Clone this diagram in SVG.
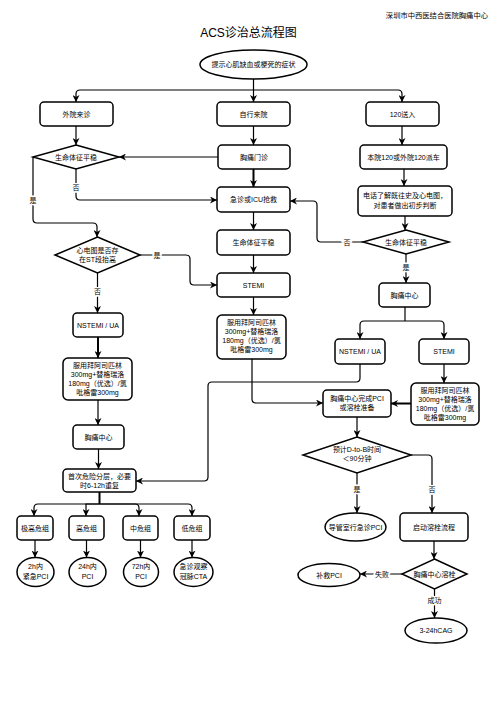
<svg xmlns="http://www.w3.org/2000/svg" width="503" height="713" viewBox="0 0 503 713">
<style>
.bx{fill:#fff;stroke:#000;stroke-width:1.5}
.c{fill:none;stroke:#000;stroke-width:1.2}
.k{stroke-width:2}
text{font-family:"Liberation Sans","Noto Sans CJK SC",sans-serif;font-size:7px;text-anchor:middle;fill:#000}
.lb{paint-order:stroke;stroke:#fff;stroke-width:3px}
</style>
<defs>
<marker id="a" viewBox="0 0 10 10" refX="10" refY="5" markerWidth="7" markerHeight="7" markerUnits="userSpaceOnUse" orient="auto"><path d="M0,0 L10,5 L0,10 L3,5 z" fill="#000"/></marker>
</defs>
<rect width="503" height="713" fill="#fff"/>
<text x="488" y="17.5" style="text-anchor:end;font-size:7.3px">深圳市中西医结合医院胸痛中心</text>
<text x="248.5" y="36.5" style="font-size:12px">ACS诊治总流程图</text>

<g id="connectors">
<path class="c" d="M253.5,79 V102" marker-end="url(#a)"/>
<path class="c" d="M253.5,90 H80 Q76,90 76,94 V102" marker-end="url(#a)"/>
<path class="c" d="M253.5,90 H398 Q402,90 402,94 V102" marker-end="url(#a)"/>
<path class="c" d="M76,126 V145" marker-end="url(#a)"/>
<path class="c" d="M218,157 H119" marker-end="url(#a)"/>
<path class="c" d="M253.5,126 V145" marker-end="url(#a)"/>
<path class="c k" d="M253.5,169 V187" marker-end="url(#a)"/>
<path class="c" d="M76,169 V196 Q76,200 80,200 H217" marker-end="url(#a)"/>
<path class="c" d="M33,157 V219 Q33,223 37,223 H93 Q97,223 97,227 V237" marker-end="url(#a)"/>
<path class="c" d="M253.5,212 V230" marker-end="url(#a)"/>
<path class="c" d="M253.5,255 V273" marker-end="url(#a)"/>
<path class="c" d="M140,255 H186 Q190,255 190,259 V281 Q190,285 194,285 H217" marker-end="url(#a)"/>
<path class="c" d="M97.5,273 V313" marker-end="url(#a)"/>
<path class="c" d="M253.5,297 V315" marker-end="url(#a)"/>
<path class="c" d="M402,126 V145" marker-end="url(#a)"/>
<path class="c" d="M404,169 V186" marker-end="url(#a)"/>
<path class="c" d="M405,216 V230" marker-end="url(#a)"/>
<path class="c" d="M363,242 H321 Q317,242 317,238 V205 Q317,201 313,201 H290" marker-end="url(#a)"/>
<path class="c" d="M406,254 V283" marker-end="url(#a)"/>
<path class="c" d="M405,307 V321" />
<path class="c" d="M405,321 H364 Q360,321 360,325 V339" marker-end="url(#a)"/>
<path class="c" d="M405,321 H440 Q444,321 444,325 V339" marker-end="url(#a)"/>
<path class="c k" d="M98,337 V358" marker-end="url(#a)"/>
<path class="c" d="M98,400 V425" marker-end="url(#a)"/>
<path class="c" d="M98.5,449 V469" marker-end="url(#a)"/>
<path class="c" d="M444,364 V383" marker-end="url(#a)"/>
<path class="c k" d="M411,403.5 H391" marker-end="url(#a)"/>
<path class="c" d="M252,359 V399 Q252,403 256,403 H323" marker-end="url(#a)"/>
<path class="c" d="M360,364 V378 Q360,382 356,382 H212 Q208,382 208,386 V477 Q208,481 204,481 H136" marker-end="url(#a)"/>
<path class="c" d="M357,417 V437" marker-end="url(#a)"/>
<path class="c" d="M357,473 V513" marker-end="url(#a)"/>
<path class="c" d="M411,455 H428 Q432,455 432,459 V513" marker-end="url(#a)"/>
<path class="c" d="M434,541 V559" marker-end="url(#a)"/>
<path class="c" d="M402,574 H360" marker-end="url(#a)"/>
<path class="c" d="M434.5,589 V618" marker-end="url(#a)"/>
<path class="c k" d="M99.5,492 V504"/>
<path class="c" d="M99.5,504 H38 Q34,504 34,508 V516" marker-end="url(#a)"/>
<path class="c" d="M99.5,504 H86 V516" marker-end="url(#a)"/>
<path class="c" d="M99.5,504 H135 Q139,504 139,508 V516" marker-end="url(#a)"/>
<path class="c" d="M99.5,504 H188 Q192,504 192,508 V516" marker-end="url(#a)"/>
<path class="c" d="M35,540 V557.5" marker-end="url(#a)"/>
<path class="c" d="M86.5,540 V557.5" marker-end="url(#a)"/>
<path class="c" d="M140.5,540 V557.5" marker-end="url(#a)"/>
<path class="c" d="M192,540 V557.5" marker-end="url(#a)"/>
<text class="lb" x="76" y="189.5">否</text>
<text class="lb" x="33" y="202.5">是</text>
<text class="lb" x="157" y="257.5">是</text>
<text class="lb" x="97.5" y="293.5">否</text>
<text class="lb" x="347" y="244.5">否</text>
<text class="lb" x="406" y="269.5">是</text>
<text class="lb" x="357" y="491.5">是</text>
<text class="lb" x="432" y="491.5">否</text>
<text class="lb" x="382" y="576.5">失败</text>
<text class="lb" x="434.5" y="602.5">成功</text>
</g>

<g id="start"><ellipse class="bx" cx="253.5" cy="64.5" rx="53.5" ry="14.5"/><text x="253.5" y="67">提示心肌缺血或梗死的症状</text></g>
<g id="waiyuan"><rect class="bx" x="40" y="102" width="73" height="24" rx="4"/><text x="76.5" y="116.5">外院来诊</text></g>
<g id="ziyuan"><rect class="bx" x="217" y="102" width="73" height="24" rx="4"/><text x="253.5" y="116.5">自行来院</text></g>
<g id="song120"><rect class="bx" x="366" y="102" width="73" height="24" rx="4"/><text x="402.5" y="116.5">120送入</text></g>
<g id="d1"><polygon class="bx" points="76,145 119,157 76,169 33,157"/><text x="76" y="159.5">生命体征平稳</text></g>
<g id="xtmz"><rect class="bx" x="218" y="145" width="72" height="24" rx="4"/><text x="254" y="159.5">胸痛门诊</text></g>
<g id="paiche"><rect class="bx" x="360" y="145" width="87" height="24" rx="4"/><text x="403.5" y="159.5">本院120或外院120派车</text></g>
<g id="icu"><rect class="bx" x="217" y="187" width="73" height="25" rx="4"/><text x="253.5" y="202">急诊或ICU抢救</text></g>
<g id="dianhua"><rect class="bx" x="358" y="186" width="94" height="30" rx="4"/><text x="405" y="198">电话了解既往史及心电图，</text><text x="405" y="208">对患者做出初步判断</text></g>
<g id="smtz"><rect class="bx" x="217" y="230" width="73" height="25" rx="4"/><text x="253.5" y="245">生命体征平稳</text></g>
<g id="d2"><polygon class="bx" points="406,230 449,242 406,254 363,242"/><text x="406" y="244.5">生命体征平稳</text></g>
<g id="d3"><polygon class="bx" points="97.5,237 140,255 97.5,273 55,255"/><text x="97.5" y="253">心电图是否存</text><text x="97.5" y="261.5">在ST段抬高</text></g>
<g id="stemi1"><rect class="bx" x="217" y="273" width="73" height="24" rx="4"/><text x="253.5" y="287.5">STEMI</text></g>
<g id="xtzx1"><rect class="bx" x="379" y="283" width="51" height="24" rx="4"/><text x="404.5" y="297.5">胸痛中心</text></g>
<g id="fy1"><rect class="bx" x="217" y="315" width="69" height="44" rx="5"/><text x="251.5" y="325">服用拜阿司匹林</text><text x="251.5" y="334">300mg+替格瑞洛</text><text x="251.5" y="343">180mg（优选）/氯</text><text x="251.5" y="352">吡格雷300mg</text></g>
<g id="nstemi1"><rect class="bx" x="73" y="313" width="50" height="24" rx="4"/><text x="98" y="327.5">NSTEMI / UA</text></g>
<g id="nstemi2"><rect class="bx" x="335" y="339" width="50" height="25" rx="4"/><text x="360" y="354">NSTEMI / UA</text></g>
<g id="stemi2"><rect class="bx" x="419" y="339" width="50" height="25" rx="4"/><text x="444" y="354">STEMI</text></g>
<g id="fy2"><rect class="bx" x="63" y="358" width="69" height="42" rx="5"/><text x="97.5" y="367.5">服用拜阿司匹林</text><text x="97.5" y="376.5">300mg+替格瑞洛</text><text x="97.5" y="385.5">180mg（优选）/氯</text><text x="97.5" y="394.5">吡格雷300mg</text></g>
<g id="fy3"><rect class="bx" x="411" y="383" width="68" height="42" rx="5"/><text x="445" y="392.5">服用拜阿司匹林</text><text x="445" y="401.5">300mg+替格瑞洛</text><text x="445" y="410.5">180mg（优选）/氯</text><text x="445" y="419.5">吡格雷300mg</text></g>
<g id="wcpci"><rect class="bx" x="323" y="390" width="68" height="27" rx="4"/><text x="357" y="401">胸痛中心完成PCI</text><text x="357" y="410">或溶栓准备</text></g>
<g id="xtzx2"><rect class="bx" x="73" y="425" width="51" height="24" rx="4"/><text x="98.5" y="439.5">胸痛中心</text></g>
<g id="d4"><polygon class="bx" points="357,437 411,455 357,473 303,455"/><text x="357" y="452">预计D-to-B时间</text><text x="357" y="461">＜90分钟</text></g>
<g id="fenceng"><rect class="bx" x="63" y="469" width="73" height="23" rx="4"/><text x="99.5" y="478.5">首次危险分层，必要</text><text x="99.5" y="487.5">时6-12h重复</text></g>
<g id="r1"><rect class="bx" x="17" y="516" width="36" height="24" rx="4"/><text x="35" y="530.5">极高危组</text></g>
<g id="r2"><rect class="bx" x="69" y="516" width="35" height="24" rx="4"/><text x="86.5" y="530.5">高危组</text></g>
<g id="r3"><rect class="bx" x="123" y="516" width="35" height="24" rx="4"/><text x="140.5" y="530.5">中危组</text></g>
<g id="r4"><rect class="bx" x="174" y="516" width="36" height="24" rx="4"/><text x="192" y="530.5">低危组</text></g>
<g id="e1"><ellipse class="bx" cx="35.5" cy="572" rx="18.5" ry="14.5"/><text x="35.5" y="569">2h内</text><text x="35.5" y="578.5">紧急PCI</text></g>
<g id="e2"><ellipse class="bx" cx="87.5" cy="572" rx="18.5" ry="14.5"/><text x="87.5" y="569">24h内</text><text x="87.5" y="578.5">PCI</text></g>
<g id="e3"><ellipse class="bx" cx="141" cy="572" rx="17.5" ry="14.5"/><text x="141" y="569">72h内</text><text x="141" y="578.5">PCI</text></g>
<g id="e4"><ellipse class="bx" cx="193.5" cy="572" rx="19.5" ry="14.5"/><text x="193.5" y="569">急诊观察</text><text x="193.5" y="578.5">冠脉CTA</text></g>
<g id="dgs"><ellipse class="bx" cx="355.5" cy="527" rx="30.5" ry="14"/><text x="355.5" y="529.5">导管室行急诊PCI</text></g>
<g id="rs"><rect class="bx" x="400" y="513" width="68" height="28" rx="4"/><text x="434" y="529.5">启动溶栓流程</text></g>
<g id="d5"><polygon class="bx" points="434.5,559 467,574 434.5,589 402,574"/><text x="434.5" y="576.5">胸痛中心溶栓</text></g>
<g id="bjpci"><ellipse class="bx" cx="329" cy="575" rx="31" ry="11.5"/><text x="329" y="577.5">补救PCI</text></g>
<g id="cag"><ellipse class="bx" cx="436" cy="630.5" rx="31" ry="12.5"/><text x="436" y="633">3-24hCAG</text></g>
</svg>
